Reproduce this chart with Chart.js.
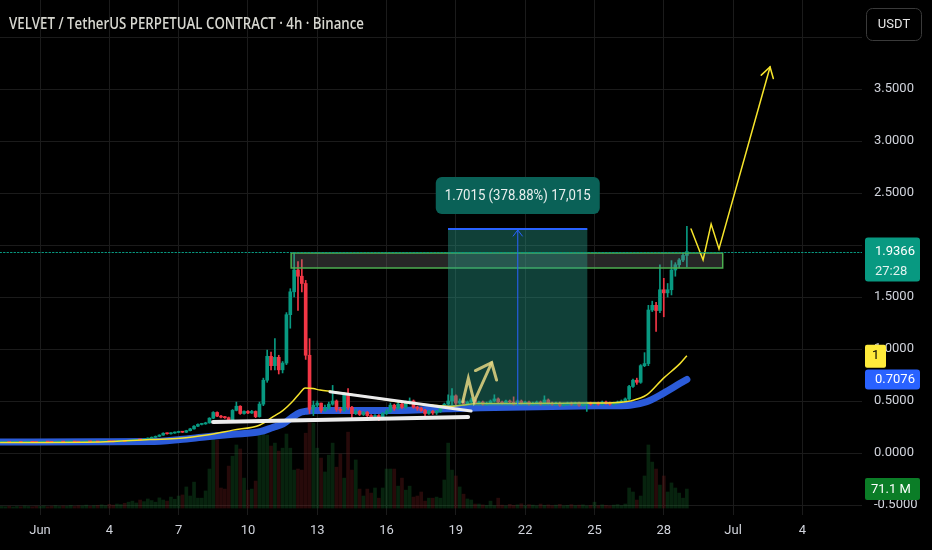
<!DOCTYPE html>
<html>
<head>
<meta charset="utf-8">
<script src="https://cdn.jsdelivr.net/npm/chart.js@4.4.1/dist/chart.umd.min.js"></script>
<style>
  html, body { margin: 0; padding: 0; background: #000; }
  #caja { position: relative; width: 932px; height: 550px; }
</style>
</head>
<body>
<div id="caja"><canvas id="grafico" width="932" height="550"></canvas></div>
<script>
// ---------------- DATOS (velas de 4h, desde 30 may 08:00) ----------------
const inicioDia = -10 / 6;          // días respecto al 1 de junio
const aperturaInicial = 0.100;

const cierres = [
  0.102, 0.104, 0.101, 0.103,                      // 30 may
  0.105, 0.102, 0.104, 0.106, 0.103, 0.101,        // 31 may
  0.104, 0.106, 0.105, 0.103, 0.106, 0.108,        // 1 jun
  0.105, 0.107, 0.109, 0.106, 0.104, 0.107,
  0.109, 0.108, 0.110, 0.107, 0.109, 0.112,
  0.110, 0.108, 0.111, 0.113, 0.112, 0.118,        // 4 jun
  0.122, 0.128, 0.126, 0.134, 0.142, 0.150,
  0.160, 0.172, 0.190, 0.185, 0.192, 0.198,
  0.205, 0.200, 0.215, 0.232, 0.258, 0.275,        // 7 jun
  0.280, 0.290, 0.335, 0.390, 0.355, 0.345,
  0.340, 0.305, 0.410, 0.450, 0.380, 0.400,
  0.385, 0.400, 0.350, 0.470, 0.700, 0.930,        // 10 jun
  0.840, 0.920, 0.800, 0.865, 1.330, 1.550,
  1.760, 1.700, 1.630, 0.940, 0.420, 0.460,
  0.480, 0.410, 0.430, 0.470, 0.500, 0.420,        // 13 jun
  0.410, 0.560, 0.440, 0.380, 0.400, 0.370,
  0.390, 0.360, 0.340, 0.360, 0.330, 0.380,
  0.400, 0.460, 0.430, 0.470, 0.440, 0.480,        // 16 jun
  0.500, 0.440, 0.430, 0.410, 0.380, 0.400,
  0.385, 0.400, 0.440, 0.470, 0.500, 0.550,
  0.480, 0.500, 0.470, 0.490, 0.510, 0.480,        // 19 jun
  0.490, 0.470, 0.480, 0.500, 0.520, 0.490,
  0.480, 0.500, 0.490, 0.470, 0.500, 0.480,
  0.490, 0.470, 0.480, 0.490, 0.470, 0.510,        // 22 jun
  0.480, 0.470, 0.480, 0.460, 0.470, 0.480,
  0.470, 0.480, 0.460, 0.470, 0.480, 0.470,
  0.480, 0.470, 0.490, 0.480, 0.470, 0.480,        // 25 jun
  0.490, 0.500, 0.520, 0.640, 0.700, 0.680,
  0.840, 0.860, 1.375, 1.420, 1.370, 1.570,
  1.540, 1.570, 1.760, 1.810, 1.856, 1.900,        // 28 jun
  1.9366
];

const maximos = [
  0.104, 0.106, 0.105, 0.105,
  0.107, 0.106, 0.105, 0.108, 0.107, 0.104,
  0.106, 0.108, 0.107, 0.106, 0.108, 0.110,
  0.109, 0.108, 0.111, 0.110, 0.107, 0.109,
  0.111, 0.110, 0.112, 0.111, 0.110, 0.114,
  0.114, 0.111, 0.112, 0.115, 0.115, 0.121,
  0.125, 0.131, 0.130, 0.137, 0.146, 0.155,
  0.164, 0.176, 0.195, 0.193, 0.196, 0.203,
  0.210, 0.208, 0.219, 0.238, 0.263, 0.281,
  0.286, 0.296, 0.340, 0.398, 0.395, 0.362,
  0.352, 0.346, 0.418, 0.490, 0.455, 0.405,
  0.408, 0.410, 0.405, 0.490, 0.720, 0.990,
  0.970, 1.100, 0.940, 0.880, 1.350, 1.580,
  1.930, 1.840, 1.860, 1.660, 1.100, 0.500,
  0.500, 0.480, 0.460, 0.490, 0.650, 0.510,
  0.440, 0.580, 0.620, 0.450, 0.420, 0.410,
  0.400, 0.400, 0.370, 0.370, 0.370, 0.390,
  0.420, 0.480, 0.470, 0.500, 0.480, 0.500,
  0.530, 0.510, 0.450, 0.440, 0.420, 0.410,
  0.410, 0.410, 0.450, 0.480, 0.560, 0.620,
  0.560, 0.520, 0.510, 0.500, 0.530, 0.520,
  0.500, 0.500, 0.490, 0.510, 0.560, 0.530,
  0.500, 0.510, 0.510, 0.540, 0.510, 0.510,
  0.500, 0.500, 0.490, 0.500, 0.500, 0.550,
  0.520, 0.490, 0.490, 0.490, 0.480, 0.490,
  0.490, 0.490, 0.490, 0.480, 0.490, 0.490,
  0.490, 0.490, 0.500, 0.500, 0.490, 0.490,
  0.500, 0.510, 0.530, 0.650, 0.710, 0.720,
  0.850, 0.965, 1.420, 1.460, 1.450, 1.810,
  1.680, 1.630, 1.850, 1.830, 1.870, 1.920,
  2.180
];

const minimos = [
  0.099, 0.101, 0.099, 0.100,
  0.102, 0.101, 0.101, 0.103, 0.102, 0.099,
  0.100, 0.103, 0.104, 0.102, 0.102, 0.105,
  0.104, 0.104, 0.106, 0.105, 0.103, 0.103,
  0.106, 0.107, 0.107, 0.106, 0.106, 0.108,
  0.109, 0.107, 0.107, 0.110, 0.111, 0.111,
  0.116, 0.120, 0.124, 0.124, 0.132, 0.140,
  0.148, 0.157, 0.170, 0.182, 0.182, 0.189,
  0.195, 0.197, 0.197, 0.212, 0.229, 0.254,
  0.270, 0.276, 0.286, 0.330, 0.350, 0.338,
  0.333, 0.292, 0.300, 0.405, 0.372, 0.374,
  0.378, 0.380, 0.340, 0.345, 0.455, 0.680,
  0.800, 0.800, 0.760, 0.770, 0.850, 1.200,
  1.500, 1.370, 1.550, 0.900, 0.380, 0.360,
  0.440, 0.390, 0.400, 0.420, 0.460, 0.400,
  0.390, 0.400, 0.420, 0.340, 0.370, 0.360,
  0.360, 0.350, 0.320, 0.330, 0.310, 0.320,
  0.370, 0.390, 0.410, 0.420, 0.430, 0.430,
  0.470, 0.430, 0.410, 0.400, 0.360, 0.370,
  0.370, 0.370, 0.390, 0.430, 0.460, 0.460,
  0.460, 0.470, 0.460, 0.460, 0.480, 0.470,
  0.470, 0.460, 0.460, 0.470, 0.490, 0.480,
  0.470, 0.470, 0.480, 0.460, 0.460, 0.470,
  0.470, 0.460, 0.460, 0.470, 0.460, 0.460,
  0.470, 0.460, 0.460, 0.450, 0.450, 0.460,
  0.460, 0.460, 0.450, 0.450, 0.400, 0.460,
  0.460, 0.460, 0.460, 0.470, 0.460, 0.460,
  0.470, 0.480, 0.490, 0.510, 0.630, 0.660,
  0.670, 0.830, 0.840, 1.360, 1.170, 1.350,
  1.310, 1.500, 1.520, 1.700, 1.780, 1.840,
  1.790
];

// volumen en millones
const volumenes = [
  6, 5, 7, 4, 6, 5, 8, 6, 5, 7,
  6, 8, 5, 7, 9, 6, 8, 7, 10, 6, 9, 8, 11, 7, 9,
  10, 12, 9, 14, 11, 15, 13, 18, 22, 26, 19, 30, 24, 34, 28, 22, 38, 30, 26, 41, 33, 45,
  49, 79, 45, 97, 37, 37, 64, 146, 280, 254,
  75, 71, 157, 194, 236, 221, 112, 67, 71, 101,
  273, 292, 273, 232, 243, 213, 224, 277, 224, 142,
  146, 142, 280, 318, 318, 224, 187, 135, 198, 243,
  153, 202, 112, 284, 142, 180, 71, 45, 71, 56,
  75, 37, 75, 146, 146, 146, 82, 112, 67, 82,
  41, 45, 60, 26, 37, 37, 41, 37, 105, 243,
  142, 120, 79, 52, 34, 30, 15,
  15, 12, 10, 26, 9, 37, 11, 8, 14, 10, 12, 16, 9, 13, 11, 8, 15, 10, 12, 9,
  11, 14, 8, 10, 13, 9, 11, 12, 8, 10, 22, 9, 12, 10, 8, 11, 13, 9, 15,
  75, 60, 30, 45, 120, 236, 172, 146, 86, 120, 60, 94, 75, 56, 37, 71.1
];

// medias móviles
const diasMedia = [-1.73, 2.6, 4.76, 6.06, 7.22, 8.35, 9.52, 10.09, 10.52, 10.95, 11.26, 11.47,
  11.82, 12.12, 12.68, 14.16, 15.58, 17.01, 17.62, 19.05, 23.38, 24.81, 25.54, 26.26, 26.98, 27.71, 28.0];
const mediaAmarilla = [0.100, 0.105, 0.130, 0.141, 0.173, 0.22, 0.27, 0.35, 0.41, 0.50, 0.58, 0.625,
  0.62, 0.605, 0.59, 0.54, 0.49, 0.46, 0.45, 0.475, 0.48, 0.484, 0.50, 0.558, 0.718, 0.862, 0.936];
const mediaAzul = [0.105, 0.108, 0.110, 0.130, 0.157, 0.18, 0.205, 0.247, 0.279, 0.35, 0.39, 0.40,
  0.41, 0.41, 0.41, 0.41, 0.41, 0.42, 0.425, 0.435, 0.452, 0.455, 0.46, 0.493, 0.574, 0.67, 0.7076];

// ejes
const diasTicksX = [0, 3, 6, 9, 12, 15, 18, 21, 24, 27, 30, 33];
const etiquetasX = ['Jun', '4', '7', '10', '13', '16', '19', '22', '25', '28', 'Jul', '4'];
const ticksY = [-0.5, 0, 0.5, 1, 1.5, 2, 2.5, 3, 3.5, 4];

// dibujos sobre el gráfico (días, precio)
const zonaDias = [10.87, 29.55], zonaPrecios = [1.779, 1.923];
const rangoDias = [17.66, 23.69], rangoPrecios = [0.4525, 2.154], rangoFlechaDia = 20.68;
const rangoTexto = '1.7015 (378.88%) 17,015';
const soporteDias = [7.49, 18.53], soportePrecios = [0.298, 0.346];
const tendenciaDias = [12.55, 18.66], tendenciaPrecios = [0.59, 0.404];
const zigzagDias = [18.30, 18.54, 18.79, 19.55], zigzagPrecios = [0.493, 0.718, 0.493, 0.868];
const proyeccionDias = [28.18, 28.70, 29.05, 29.39, 31.60], proyeccionPrecios = [2.154, 1.856, 2.202, 1.962, 3.712];

const ultimoPrecio = 1.9366, cuentaAtras = '27:28';
const etiquetaAmarilla = '1', etiquetaAzul = '0.7076', etiquetaVolumen = '71.1 M';
const titulo = 'VELVET / TetherUS PERPETUAL CONTRACT · 4h · Binance';

// ---------------- VELAS ----------------
const VERDE = '#089981', ROJO = '#f23645';

const velas = cierres.map((c, i) => ({
    x: inicioDia + i / 6,
    o: i === 0 ? aperturaInicial : cierres[i - 1],
    h: maximos[i],
    l: minimos[i],
    c: c
}));
const coloresVela = velas.map(v => v.c >= v.o ? VERDE : ROJO);
const coloresVolumen = velas.map(v => v.c >= v.o ? 'rgba(22,110,45,0.32)' : 'rgba(130,32,32,0.3)');

// ---------------- UTILIDADES DE DIBUJO ----------------
function punta(ctx, x0, y0, x1, y1, largo, angulo) {
    const a = Math.atan2(y0 - y1, x0 - x1);
    ctx.beginPath();
    ctx.moveTo(x1 + largo * Math.cos(a + angulo), y1 + largo * Math.sin(a + angulo));
    ctx.lineTo(x1, y1);
    ctx.lineTo(x1 + largo * Math.cos(a - angulo), y1 + largo * Math.sin(a - angulo));
    ctx.stroke();
}

function polilinea(ctx, xs, ys) {
    ctx.beginPath();
    xs.forEach((x, i) => i ? ctx.lineTo(x, ys[i]) : ctx.moveTo(x, ys[i]));
    ctx.stroke();
}

function textoAjustado(ctx, texto, x, y, ancho) {
    const w = ctx.measureText(texto).width;
    const k = ancho && w > ancho ? ancho / w : 1;
    ctx.save();
    ctx.translate(x, y);
    ctx.scale(k, 1);
    ctx.fillText(texto, 0, 0);
    ctx.restore();
}

function caja(ctx, x, y, w, h, r, color) {
    ctx.fillStyle = color;
    ctx.beginPath();
    ctx.roundRect(x, y, w, h, r);
    ctx.fill();
}

const dibujos = {
    id: 'dibujos',
    afterDraw(chart) {
        const { ctx, chartArea: a, scales } = chart;
        const px = d => scales.x.getPixelForValue(d);
        const py = p => scales.y.getPixelForValue(p);

        ctx.save();
        ctx.beginPath();
        ctx.rect(a.left, a.top, a.right - a.left, a.bottom - a.top);
        ctx.clip();

        // zona de resistencia
        const zx = px(zonaDias[0]), zw = px(zonaDias[1]) - zx;
        const zy = py(zonaPrecios[1]), zh = py(zonaPrecios[0]) - zy;
        ctx.fillStyle = 'rgba(128,128,128,0.3)';
        ctx.fillRect(zx, zy, zw, zh);
        ctx.strokeStyle = '#4caf50';
        ctx.lineWidth = 1.5;
        ctx.strokeRect(zx, zy, zw, zh);

        // rango de precio medido
        const rx = px(rangoDias[0]), rw = px(rangoDias[1]) - rx;
        const ry = py(rangoPrecios[1]), rb = py(rangoPrecios[0]);
        ctx.fillStyle = 'rgba(41,160,140,0.40)';
        ctx.fillRect(rx, ry, rw, rb - ry);
        ctx.strokeStyle = '#2962ff';
        ctx.lineWidth = 2;
        ctx.beginPath(); ctx.moveTo(rx, ry); ctx.lineTo(rx + rw, ry); ctx.stroke();
        const fx = px(rangoFlechaDia);
        ctx.lineWidth = 1;
        ctx.beginPath(); ctx.moveTo(fx, rb); ctx.lineTo(fx, ry + 1); ctx.stroke();
        punta(ctx, fx, rb, fx, ry + 1, 8, 0.65);
        caja(ctx, fx - 82, ry - 52, 164, 37, 6, '#0a6157');
        ctx.fillStyle = '#e9efee';
        ctx.font = '15px Roboto';
        ctx.textBaseline = 'middle';
        ctx.textAlign = 'left';
        const tw = Math.min(ctx.measureText(rangoTexto).width, 146);
        textoAjustado(ctx, rangoTexto, fx - tw / 2, ry - 33, 146);

        // líneas blancas
        ctx.strokeStyle = '#ececec';
        ctx.lineCap = 'round';
        ctx.lineWidth = 4;
        polilinea(ctx, soporteDias.map(px), soportePrecios.map(py));
        ctx.lineWidth = 3;
        polilinea(ctx, tendenciaDias.map(px), tendenciaPrecios.map(py));

        // zigzag pequeño
        ctx.strokeStyle = 'rgba(228,214,130,0.85)';
        ctx.lineWidth = 3;
        ctx.lineJoin = 'miter';
        const zxs = zigzagDias.map(px), zys = zigzagPrecios.map(py);
        polilinea(ctx, zxs, zys);
        punta(ctx, zxs[2], zys[2], zxs[3], zys[3], 18, 0.7);

        // proyección amarilla
        ctx.strokeStyle = '#f7e52b';
        ctx.lineWidth = 1.5;
        const pxs = proyeccionDias.map(px), pys = proyeccionPrecios.map(py);
        polilinea(ctx, pxs, pys);
        punta(ctx, pxs[3], pys[3], pxs[4], pys[4], 12, 0.55);

        // línea de último precio
        ctx.strokeStyle = VERDE;
        ctx.lineWidth = 1;
        ctx.setLineDash([1.5, 2]);
        const ly = Math.round(py(ultimoPrecio)) + 0.5;
        ctx.beginPath(); ctx.moveTo(a.left, ly); ctx.lineTo(a.right, ly); ctx.stroke();
        ctx.setLineDash([]);
        ctx.restore();

        // ---------- etiquetas del eje de precios ----------
        ctx.save();
        ctx.textBaseline = 'middle';
        ctx.textAlign = 'left';
        ctx.font = '13px Roboto';
        const ex = a.right + 3;

        const yp = py(ultimoPrecio);
        caja(ctx, ex, yp - 14, 55, 44, 3, VERDE);
        ctx.fillStyle = '#ffffff';
        ctx.fillText(ultimoPrecio.toFixed(4), ex + 10, yp + 0.5);
        ctx.fillStyle = '#e3f2ef';
        ctx.fillText(cuentaAtras, ex + 10, yp + 20.5);

        const ya = py(mediaAmarilla[mediaAmarilla.length - 1]);
        caja(ctx, ex, ya - 11, 21, 23, 2, '#ffeb3b');
        ctx.fillStyle = '#000';
        ctx.fillText(etiquetaAmarilla, ex + 7, ya + 0.5);

        const yb = py(mediaAzul[mediaAzul.length - 1]);
        caja(ctx, ex, yb - 10, 55, 20, 3, '#2962ff');
        ctx.fillStyle = '#ffffff';
        ctx.fillText(etiquetaAzul, ex + 10, yb + 0.5);

        const yv = scales.yv.getPixelForValue(volumenes[volumenes.length - 1]);
        caja(ctx, ex, yv - 11, 55, 22, 2, '#0b7d27');
        ctx.fillStyle = '#ffffff';
        ctx.fillText(etiquetaVolumen, ex + 6, yv + 0.5);

        // botón USDT
        ctx.fillStyle = '#000';
        ctx.strokeStyle = '#3a3a3a';
        ctx.lineWidth = 1;
        ctx.beginPath();
        ctx.roundRect(866.5, 8.5, 55, 32, 6);
        ctx.fill();
        ctx.stroke();
        ctx.fillStyle = '#e6e6e6';
        ctx.textAlign = 'center';
        ctx.fillText('USDT', 894, 25);

        // título
        ctx.textAlign = 'left';
        ctx.textBaseline = 'alphabetic';
        ctx.font = '600 16px "Open Sans"';
        ctx.fillStyle = '#d6d6cf';
        textoAjustado(ctx, titulo, 9, 29, 355);
        ctx.restore();
    }
};

// ---------------- GRÁFICO ----------------
const fuenteEje = { family: 'Roboto', size: 13 };

new Chart(document.getElementById('grafico'), {
    type: 'bar',
    data: {
        datasets: [
            {
                label: 'Volumen',
                data: velas.map((v, i) => ({ x: v.x, y: [0, volumenes[i]] })),
                yAxisID: 'yv',
                backgroundColor: coloresVolumen,
                barThickness: 3,
                grouped: false,
                order: 10
            },
            {
                type: 'line',
                label: 'Media azul',
                data: diasMedia.map((d, i) => ({ x: d, y: mediaAzul[i] })),
                borderColor: '#2b5bd9',
                borderWidth: 7,
                borderCapStyle: 'round',
                pointRadius: 0,
                cubicInterpolationMode: 'monotone',
                order: 8
            },
            {
                label: 'Mechas',
                data: velas.map(v => ({ x: v.x, y: [v.l, v.h] })),
                backgroundColor: coloresVela,
                barThickness: 1,
                grouped: false,
                order: 6
            },
            {
                label: 'Cuerpos',
                data: velas.map(v => ({ x: v.x, y: [Math.min(v.o, v.c), Math.max(v.o, v.c)] })),
                backgroundColor: coloresVela,
                barThickness: 3,
                minBarLength: 1,
                grouped: false,
                order: 5
            },
            {
                type: 'line',
                label: 'Media amarilla',
                data: diasMedia.map((d, i) => ({ x: d, y: mediaAmarilla[i] })),
                borderColor: '#f5e22c',
                borderWidth: 1.5,
                pointRadius: 0,
                cubicInterpolationMode: 'monotone',
                order: 4
            }
        ]
    },
    options: {
        responsive: false,
        animation: false,
        events: [],
        layout: { padding: 0 },
        plugins: { legend: { display: false }, tooltip: { enabled: false } },
        scales: {
            x: {
                type: 'linear',
                min: -1.732,
                max: 35.58,
                offset: false,
                grid: { color: '#1b1b1b', drawTicks: false, offset: false },
                border: { display: false },
                ticks: {
                    color: '#d1d4dc', font: fuenteEje, padding: 8, maxRotation: 0,
                    autoSkip: false, includeBounds: false,
                    callback: v => etiquetasX[diasTicksX.indexOf(v)] ?? ''
                },
                afterBuildTicks: s => { s.ticks = diasTicksX.map(v => ({ value: v })); },
                afterFit: s => { s.height = 35; s.paddingLeft = 0; s.paddingRight = 0; }
            },
            y: {
                position: 'right',
                min: -0.596,
                max: 4.356,
                grid: { color: '#1b1b1b', drawTicks: false },
                border: { display: false },
                ticks: {
                    color: '#d1d4dc', font: fuenteEje, padding: 12, crossAlign: 'near',
                    callback: v => v.toFixed(4)
                },
                afterBuildTicks: s => { s.ticks = ticksY.map(v => ({ value: v })); },
                afterFit: s => { s.width = 70; s.paddingTop = 0; s.paddingBottom = 0; }
            },
            yv: { display: false, min: -26, max: 1901 }
        }
    },
    plugins: [dibujos]
});
</script>
</body>
</html>
